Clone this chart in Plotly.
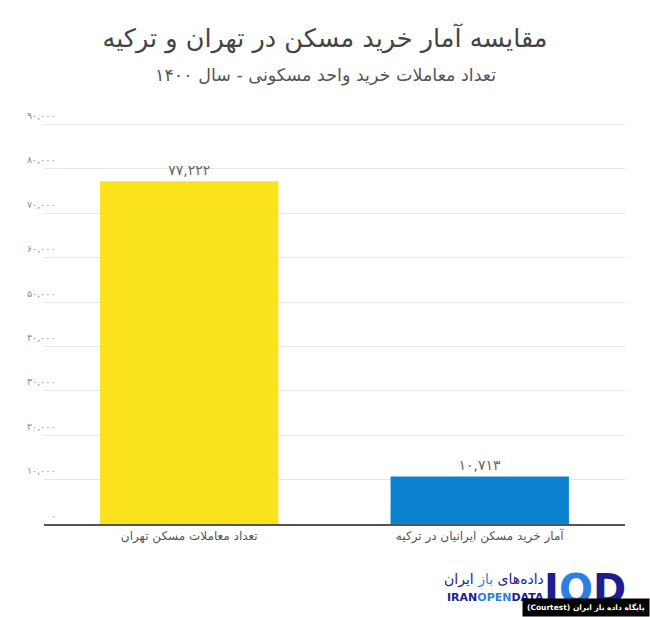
import plotly.graph_objects as go

categories = ["تعداد معاملات مسکن تهران", "آمار خرید مسکن ایرانیان در ترکیه"]
values = [77222, 10713]
bar_colors = ["#FAE31C", "#0B82CF"]
tick_values = [0, 10000, 20000, 30000, 40000, 50000, 60000, 70000, 80000, 90000]

title_text = "مقایسه آمار خرید مسکن در تهران و ترکیه"
subtitle_text = "تعداد معاملات خرید واحد مسکونی - سال ۱۴۰۰"

FA = str.maketrans("0123456789", "۰۱۲۳۴۵۶۷۸۹")


def fa_num(v):
    return f"{v:,}".translate(FA)


W, H = 650, 617
L, R, T, B = 44, 625, 119.5, 524
PW, PH = R - L, B - T


def px(x):
    return (x - L) / PW


def py(y):
    return (B - y) / PH


FONT = "DejaVu Sans"

fig = go.Figure()
fig.add_trace(go.Bar(
    x=categories, y=values,
    marker=dict(color=bar_colors, line=dict(width=0)),
    text=[fa_num(v) for v in values],
    textposition="outside",
    textfont=dict(family=FONT, size=14, color="#666666"),
    cliponaxis=False,
    width=0.614,
    hoverinfo="skip",
))

annotations = []
for tv in tick_values:
    annotations.append(dict(
        x=px(58), xref="paper", y=tv, yref="y", yshift=9,
        text=fa_num(tv), showarrow=False, xanchor="right", yanchor="middle",
        font=dict(family=FONT, size=9.5, color="#8a8a8a"),
    ))

annotations.append(dict(
    x=(W / 2 - L) / PW, xref="paper", y=py(75), yref="paper",
    text=subtitle_text, showarrow=False, xanchor="center", yanchor="middle",
    font=dict(family=FONT, size=17.5, color="#555555"),
))
# logo
annotations.append(dict(
    x=px(546), xref="paper", y=py(580), yref="paper",
    text="داده‌های <span style='color:#2d7fe0'>باز</span> ایران", showarrow=False,
    xanchor="right", yanchor="middle",
    font=dict(family=FONT, size=14, color="#1d1e8c"),
))
annotations.append(dict(
    x=px(546), xref="paper", y=py(598), yref="paper",
    text="<b>IRAN<span style='color:#2d7fe0'>OPEN</span>DATA</b>", showarrow=False,
    xanchor="right", yanchor="middle",
    font=dict(family=FONT, size=11, color="#1d1e8c"),
))
annotations.append(dict(
    x=px(628), xref="paper", y=py(589), yref="paper",
    text="<b>I<span style='color:#2d7fe0'>O</span>D</b>", showarrow=False,
    xanchor="right", yanchor="middle",
    font=dict(family=FONT, size=40, color="#1d1e8c"),
))
annotations.append(dict(
    x=1 + (W - R) / PW, xref="paper", y=py(617), yref="paper",
    text="<b>(Courtest) پایگاه داده باز ایران</b>", showarrow=False,
    xanchor="right", yanchor="bottom",
    font=dict(family=FONT, size=7.5, color="#ffffff"),
    bgcolor="#000000", borderpad=4,
))

fig.update_layout(
    width=W, height=H,
    margin=dict(l=L, r=W - R, t=T, b=H - B),
    paper_bgcolor="white", plot_bgcolor="white",
    showlegend=False,
    title=dict(
        text=title_text, x=0.5, xanchor="center", xref="container",
        y=1 - 38 / H, yref="container", yanchor="middle",
        font=dict(family=FONT, size=25.5, color="#444444"),
    ),
    xaxis=dict(
        showgrid=False, showline=True, linecolor="#555555", linewidth=2,
        ticks="", tickfont=dict(family=FONT, size=12, color="#555555"),
        fixedrange=True,
    ),
    yaxis=dict(
        range=[0, 91000], tickvals=tick_values, showticklabels=False,
        showgrid=True, gridcolor="#e6e6e6", gridwidth=1,
        zeroline=False, showline=False, ticks="",
    ),
    annotations=annotations,
)

fig.write_html("out.html", config={"displayModeBar": False},
               post_script="document.body.style.margin='0';")
